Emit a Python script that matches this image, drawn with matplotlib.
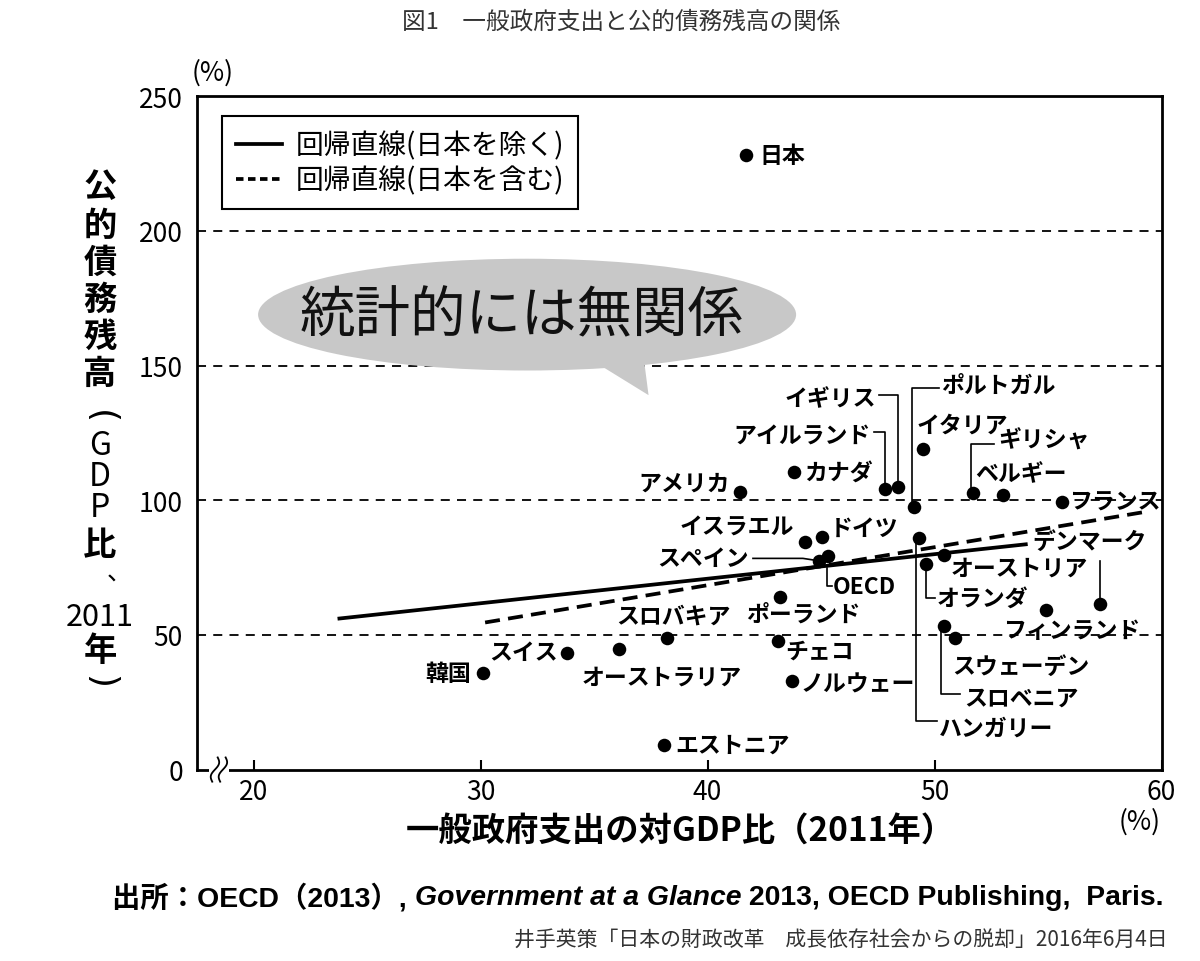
import numpy as np
import matplotlib.pyplot as plt
from matplotlib.patches import Ellipse, Polygon, Rectangle
from matplotlib.lines import Line2D

plt.rcParams['font.family'] = ['Noto Sans CJK JP', 'DejaVu Sans']

# --- data (general gov. spending vs. gross debt, % of GDP, 2011)
countries = ['日本', '韓国', 'スイス', 'オーストラリア', 'スロバキア', 'エストニア',
             'ポーランド', 'チェコ', 'ノルウェー', 'アメリカ', 'カナダ', 'アイルランド',
             'イギリス', 'イタリア', 'ポルトガル', 'ギリシャ', 'ベルギー', 'フランス',
             'イスラエル', 'ドイツ', 'スペイン', 'OECD', 'ハンガリー', 'オランダ',
             'オーストリア', 'デンマーク', 'フィンランド', 'スロベニア', 'スウェーデン']
spending = [41.7, 30.1, 33.8, 36.1, 38.2, 38.1,
            43.2, 43.1, 43.7, 41.45, 43.8, 47.8,
            48.4, 49.5, 49.1, 51.7, 53.0, 55.6,
            44.3, 45.05, 44.9, 45.3, 49.3, 49.6,
            50.4, 57.3, 54.9, 50.4, 50.9]
debt = [228.0, 35.8, 43.3, 44.6, 48.8, 9.0,
        64.0, 47.8, 32.9, 103.1, 110.3, 104.3,
        104.9, 119.1, 97.5, 102.7, 101.9, 99.4,
        84.6, 86.4, 77.5, 79.3, 85.8, 76.5,
        79.6, 61.3, 59.3, 53.2, 48.8]

# regression lines (end points)
fit_excl_x = [23.7, 54.1]
fit_excl_y = [56.0, 83.7]
fit_incl_x = [30.2, 59.3]
fit_incl_y = [54.6, 95.7]

y_ticks = [0, 50, 100, 150, 200, 250]
x_ticks = [20, 30, 40, 50, 60]

# --- label placement: (x, y, ha)
label_pos = {
    '日本': (42.3, 228.0, 'left'), '韓国': (29.6, 35.5, 'right'),
    'スイス': (33.4, 43.5, 'right'), 'オーストラリア': (38.0, 34.2, 'center'),
    'スロバキア': (38.5, 56.8, 'center'), 'エストニア': (38.6, 9.0, 'left'),
    'ポーランド': (44.2, 57.8, 'center'), 'チェコ': (43.4, 43.9, 'left'),
    'ノルウェー': (44.1, 31.7, 'left'), 'アメリカ': (41.0, 106.2, 'right'),
    'カナダ': (44.25, 110.5, 'left'), 'アイルランド': (47.2, 124.0, 'right'),
    'イギリス': (47.4, 137.7, 'right'), 'イタリア': (49.2, 127.8, 'left'),
    'ポルトガル': (50.3, 142.6, 'left'), 'ギリシャ': (52.8, 122.2, 'left'),
    'ベルギー': (51.8, 109.9, 'left'), 'フランス': (55.9, 99.4, 'left'),
    'イスラエル': (43.8, 90.5, 'right'), 'ドイツ': (45.4, 89.5, 'left'),
    'スペイン': (41.8, 78.4, 'right'), 'OECD': (45.5, 68.0, 'left'),
    'ハンガリー': (50.2, 15.5, 'left'), 'オランダ': (50.1, 63.6, 'left'),
    'オーストリア': (50.7, 74.7, 'left'), 'デンマーク': (54.3, 84.6, 'left'),
    'フィンランド': (53.0, 51.7, 'left'), 'スロベニア': (51.3, 26.5, 'left'),
    'スウェーデン': (50.8, 38.4, 'left'),
}
leaders = [
    [(47.55, 139.0), (48.4, 139.0), (48.4, 106.0)],
    [(47.35, 125.5), (47.8, 125.5), (47.8, 105.5)],
    [(50.2, 141.5), (49.0, 141.5), (49.0, 99.0)],
    [(52.6, 121.0), (51.6, 121.0), (51.6, 104.0)],
    [(42.0, 78.4), (44.2, 78.4), (44.9, 77.5)],
    [(45.25, 75.0), (45.25, 68.0), (45.5, 68.0)],
    [(57.3, 77.5), (57.3, 62.0)],
    [(49.6, 75.0), (49.6, 63.6), (50.0, 63.6)],
    [(49.2, 84.0), (49.2, 18.0), (50.1, 18.0)],
    [(50.3, 52.0), (50.3, 27.9), (51.1, 27.9)],
]

fig = plt.figure(figsize=(12, 9.62), dpi=100)
ax = fig.add_axes([0.164, 0.199, 0.804, 0.700])
ax.set_xlim(17.5, 60)
ax.set_ylim(0, 250)

for g in y_ticks[1:-1]:
    ax.axhline(g, color='black', lw=1.3, ls=(0, (5, 4)), zorder=1)

# speech bubble
ax.add_patch(Ellipse((32.05, 168.9), 23.7, 41.5, facecolor='#c8c8c8',
                     edgecolor='none', zorder=2))
ax.add_patch(Polygon([(34.9, 152), (37.4, 139), (37.2, 152)], closed=True,
                     facecolor='#c8c8c8', edgecolor='none', zorder=2))
ax.text(31.8, 168.5, '統計的には無関係', fontsize=40, ha='center', va='center',
        color='#111111', zorder=3)

ax.plot(fit_excl_x, fit_excl_y, color='black', lw=2.7, zorder=3,
        solid_capstyle='butt')
ax.plot(fit_incl_x, fit_incl_y, color='black', lw=2.7, ls=(0, (4, 2.2)),
        zorder=3)

ax.scatter(spending, debt, s=95, color='black', zorder=4, linewidths=0)

for name in countries:
    tx, ty, ha = label_pos[name]
    ax.text(tx, ty, name, fontsize=16.5, fontweight='bold', ha=ha, va='center',
            zorder=5)
for pts in leaders:
    xs, ys = zip(*pts)
    ax.plot(xs, ys, color='black', lw=1.2, zorder=4)

# legend
handles = [Line2D([], [], color='black', lw=2.7),
           Line2D([], [], color='black', lw=2.7, ls=(0, (2, 1.2)))]
leg = ax.legend(handles, ['回帰直線(日本を除く)', '回帰直線(日本を含む)'],
                loc='upper left', bbox_to_anchor=(0.026, 0.970),
                borderaxespad=0, prop={'size': 20}, handlelength=1.65,
                handletextpad=0.5, labelspacing=0.18, borderpad=0.5,
                fancybox=False, framealpha=1, edgecolor='black')
leg.get_frame().set_linewidth(1.5)

# axes styling
for s in ax.spines.values():
    s.set_linewidth(2)
ax.set_xticks(x_ticks)
ax.set_yticks(y_ticks)
ax.tick_params(axis='x', direction='in', length=7, width=1.5, labelsize=19, pad=6)
ax.tick_params(axis='y', length=0, labelsize=19, pad=10)

# axis break mark
ax.add_patch(Rectangle((18.05, -3), 0.85, 6, facecolor='white', edgecolor='none',
                       clip_on=False, zorder=6))
t = np.linspace(-1, 1, 30)
for x0 in (18.3, 18.65):
    ax.plot(x0 + 0.12 * np.sin(np.pi * t) + 0.12 * t, 4.5 * t, color='black',
            lw=1.3, clip_on=False, zorder=7)

# y label (vertical writing)
ycol = 100 / 1200
vchars = [('公', 188), ('的', 226), ('債', 263), ('務', 300), ('残', 337), ('高', 374)]
for ch, py in vchars:
    fig.text(ycol, 1 - py / 962, ch, fontsize=24, fontweight='bold',
             ha='center', va='center')
fig.text(ycol, 1 - 417 / 962, '(', fontsize=26, family='DejaVu Sans',
         rotation=-90, ha='center', va='center')
for ch, py in [('G', 446), ('D', 477), ('P', 508)]:
    fig.text(ycol, 1 - py / 962, ch, fontsize=23, ha='center', va='center')
fig.text(ycol, 1 - 545 / 962, '比', fontsize=24, fontweight='bold',
         ha='center', va='center')
fig.text(ycol + 0.016, 1 - 574 / 962, '、', fontsize=18, ha='center', va='center')
fig.text(ycol, 1 - 617 / 962, '2011', fontsize=22, ha='center', va='center')
fig.text(ycol, 1 - 652 / 962, '年', fontsize=24, fontweight='bold',
         ha='center', va='center')
fig.text(ycol, 1 - 682 / 962, ')', fontsize=26, family='DejaVu Sans',
         rotation=-90, ha='center', va='center')

fig.text(213 / 1200, 1 - 73 / 962, '(%)', fontsize=19, ha='center', va='center')
fig.text(1140 / 1200, 1 - 822 / 962, '(%)', fontsize=19, ha='center', va='center')
fig.text(680 / 1200, 1 - 832 / 962, '一般政府支出の対GDP比（2011年）', fontsize=24,
         fontweight='bold', ha='center', va='center')

fig.text(621 / 1200, 1 - 22 / 962, '図1　一般政府支出と公的債務残高の関係', fontsize=17,
         color='#333333', ha='center', va='center')

# source line with italic title
fam = ['Liberation Sans', 'Noto Sans CJK JP']
pieces = [('出所：OECD（2013）, ', 'normal'),
          ('Government at a Glance', 'italic'),
          (' 2013, OECD Publishing,  Paris.', 'normal')]
fig.canvas.draw()
r = fig.canvas.get_renderer()
xpos = 112
for txt, st in pieces:
    tobj = fig.text(xpos / 1200, 1 - 898 / 962, txt, fontsize=20.4, fontweight='bold',
                    style=st, family=fam, ha='left', va='center')
    xpos += tobj.get_window_extent(renderer=r).width

fig.text(1168 / 1200, 1 - 940 / 962, '井手英策「日本の財政改革　成長依存社会からの脱却」2016年6月4日',
         fontsize=15, color='#333333', ha='right', va='center')

fig.savefig('out.png', dpi=100)
plt.close()
